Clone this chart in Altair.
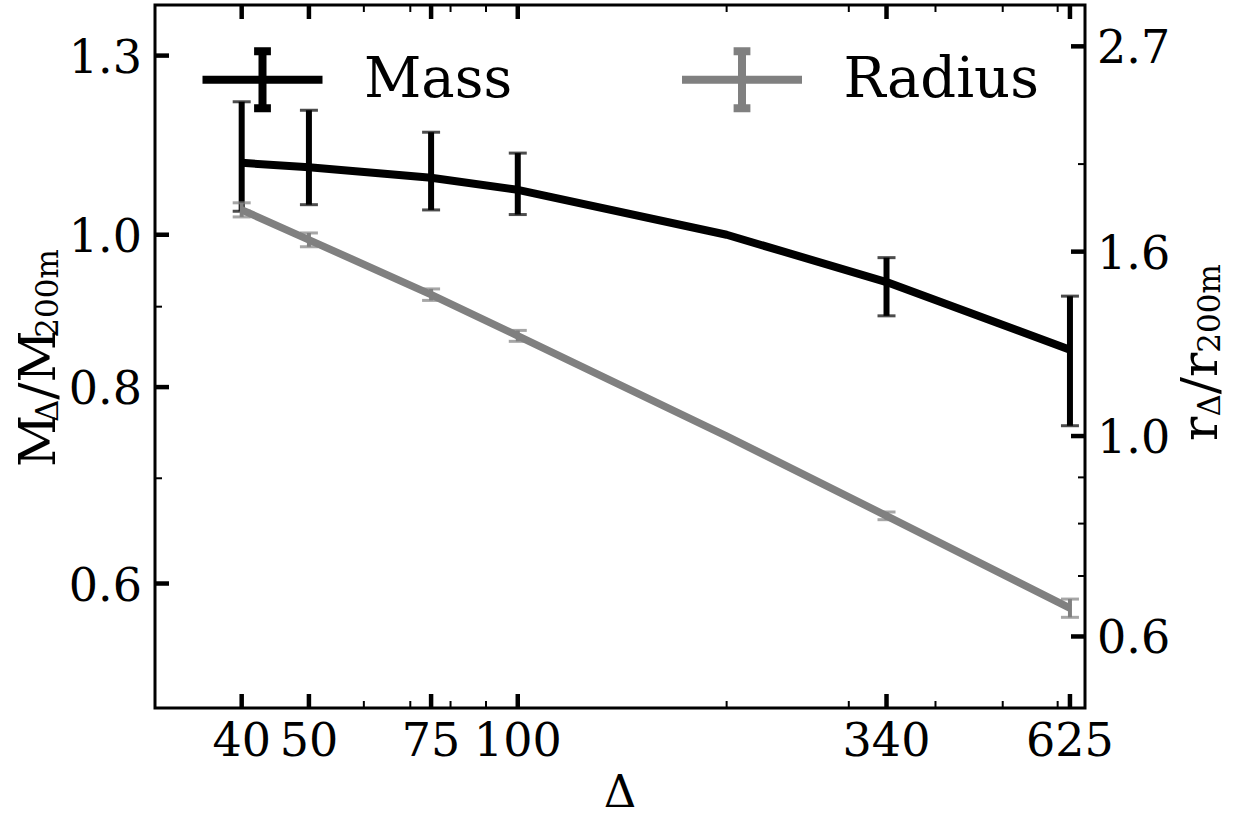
import altair as alt
import pandas as pd

# ---------------- data ----------------
delta = [40, 50, 75, 100, 200, 340, 625]
mass = [1.111, 1.104, 1.087, 1.068, 1.000, 0.933, 0.845]
radius = [1.780, 1.649, 1.434, 1.291, 1.000, 0.816, 0.645]

delta_err = [40, 50, 75, 100, 340, 625]
mass_lo = [1.035, 1.045, 1.037, 1.030, 0.888, 0.756]
mass_hi = [1.215, 1.200, 1.162, 1.127, 0.967, 0.914]
radius_lo = [1.748, 1.620, 1.413, 1.273, 0.808, 0.630]
radius_hi = [1.812, 1.678, 1.455, 1.309, 0.824, 0.660]

series = ["Mass", "Radius"]
colors = ["black", "gray"]

x_major = [40, 50, 75, 100, 340, 625]
x_minor = [60, 70, 80, 90, 200, 300, 400, 500, 600]
m_major = [0.6, 0.8, 1.0, 1.3]
m_minor = [0.7, 0.9]
r_major = [0.6, 1.0, 1.6, 2.7]
r_minor = [0.7, 0.8, 0.9, 2.0]

x_title = "\u0394"
left_title = [("M", "big"), ("\u0394", "sub"), ("/", "big"), ("M", "big"), ("200m", "sub")]
right_title = [("r", "big"), ("\u0394", "sub"), ("/", "big"), ("r", "big"), ("200m", "sub")]

# ---------------- styling ----------------
FONT = "DejaVu Serif"
W, H = 930, 703
TICK_FS = 46
BIG, SUB = 51, 31
em = {"M": 0.88, "\u0394": 0.72, "/": 0.337, "r": 0.478, "2": 0.636, "0": 0.636, "m": 0.95}

xscale = alt.Scale(type="log", domain=[30, 657], nice=False)
yl = alt.Scale(type="log", domain=[0.5, 1.4], nice=False)
yr = alt.Scale(type="log", domain=[0.5, 3.0], nice=False)

SYM = "M-1,0H1M0,-0.475V0.475M-0.14,-0.475H0.14M-0.14,0.475H0.14"
legend = alt.Legend(title=None, orient="none", legendX=43.5, legendY=10.5,
                    direction="horizontal", symbolType=SYM, symbolSize=14400,
                    symbolStrokeWidth=8, labelFont=FONT, labelFontSize=56,
                    labelColor="black", labelOffset=37.5, columnPadding=153.5,
                    padding=0, labelLimit=600)
color = alt.Color("series:N", scale=alt.Scale(domain=series, range=colors), legend=legend)

df_m = pd.DataFrame({"delta": delta, "val": mass, "series": series[0]})
df_r = pd.DataFrame({"delta": delta, "val": radius, "series": series[1]})
df_me = pd.DataFrame({"delta": delta_err, "lo": mass_lo, "hi": mass_hi})
df_re = pd.DataFrame({"delta": delta_err, "lo": radius_lo, "hi": radius_hi})


def Xn():
    return alt.X("delta:Q", scale=xscale, axis=None)


def series_layer(df, dfe, ys, col, lw, ew):
    line = alt.Chart(df).mark_line(strokeWidth=lw, strokeJoin="round").encode(
        x=Xn(), y=alt.Y("val:Q", scale=ys, axis=None), color=color)
    err = alt.Chart(dfe).mark_rule(color=col, strokeWidth=ew).encode(
        x=Xn(), y=alt.Y("lo:Q", scale=ys, axis=None), y2="hi:Q")
    cap_hi = alt.Chart(dfe).mark_tick(color=col, orient="horizontal", size=18, thickness=3).encode(
        x=Xn(), y=alt.Y("hi:Q", scale=ys, axis=None))
    cap_lo = alt.Chart(dfe).mark_tick(color=col, orient="horizontal", size=18, thickness=3).encode(
        x=Xn(), y=alt.Y("lo:Q", scale=ys, axis=None))
    return [err, cap_hi, cap_lo, line]


def yticks(vals, ys, x0, x1, sw):
    return alt.Chart(pd.DataFrame({"v": vals})).mark_rule(color="black", strokeWidth=sw).encode(
        y=alt.Y("v:Q", scale=ys, axis=None), x=alt.value(x0), x2=alt.value(x1))


def xticks(vals, y0, y1, sw):
    return alt.Chart(pd.DataFrame({"delta": vals})).mark_rule(color="black", strokeWidth=sw).encode(
        x=Xn(), y=alt.value(y0), y2=alt.value(y1))


def ylabels(vals, ys, x, align):
    return alt.Chart(pd.DataFrame({"v": vals})).mark_text(
        font=FONT, fontSize=TICK_FS, align=align, baseline="middle", dy=3, color="black"
    ).encode(y=alt.Y("v:Q", scale=ys, axis=None), x=alt.value(x),
             text=alt.Text("v:Q", format=".1f"))


def xlabels(vals):
    return alt.Chart(pd.DataFrame({"delta": vals})).mark_text(
        font=FONT, fontSize=TICK_FS, align="center", baseline="alphabetic", color="black"
    ).encode(x=Xn(), y=alt.value(H + 48), text=alt.Text("delta:Q", format="d"))


def rotated_title(pieces, x_base, y_start, sub_shift):
    charts = []
    y = y_start
    for txt, kind in pieces:
        fs = BIG if kind == "big" else SUB
        xb = x_base if kind == "big" else x_base + sub_shift
        charts.append(alt.Chart(pd.DataFrame({"t": [txt]})).mark_text(
            font=FONT, fontSize=fs, angle=270, align="left", baseline="alphabetic",
            color="black").encode(text="t:N", x=alt.value(xb), y=alt.value(y)))
        y -= sum(em.get(c, 0.6) for c in txt) * fs
    return charts


MAJ, MIN = 14, 7
mass_layers = series_layer(df_m, df_me, yl, "black", 8, 6)
mass_layers += [
    yticks(m_major, yl, 0, MAJ, 4.5), yticks(m_minor, yl, 0, MIN, 2),
    xticks(x_major, H, H - MAJ, 4.5), xticks(x_minor, H, H - MIN, 2),
    xticks(x_major, 0, MAJ, 4.5), xticks(x_minor, 0, MIN, 2),
    ylabels(m_major, yl, -13, "right"),
    xlabels(x_major),
]
mass_layers += rotated_title(left_title, -100, 462, 3)
mass_layers.append(
    alt.Chart(pd.DataFrame({"t": [x_title]})).mark_text(
        font=FONT, fontSize=45, align="center", baseline="alphabetic", color="black"
    ).encode(text="t:N", x=alt.value(W / 2), y=alt.value(802))
)

rad_layers = series_layer(df_r, df_re, yr, "gray", 7.5, 4)
rad_layers += [
    yticks(r_major, yr, W, W - MAJ, 4.5), yticks(r_minor, yr, W, W - MIN, 2),
    ylabels(r_major, yr, W + 12, "left"),
]
rad_layers += rotated_title(right_title, 1062, 436, 3)

chart = alt.layer(alt.layer(*mass_layers), alt.layer(*rad_layers)).resolve_scale(
    y="independent"
).properties(
    width=W, height=H,
    autosize=alt.AutoSizeParams(type="none"),
    padding={"left": 155, "top": 5, "right": 156, "bottom": 109},
    background="white",
).configure_view(stroke="black", strokeWidth=3)

chart.save("out.html", embed_options={"renderer": "svg", "actions": False})
